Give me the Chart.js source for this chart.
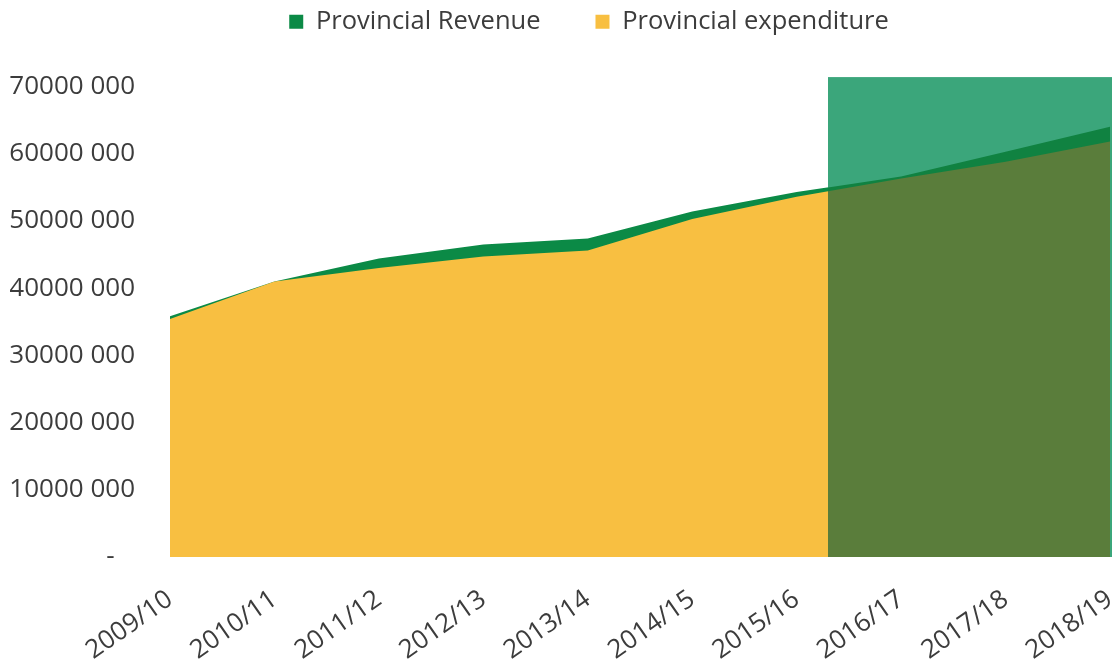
<!DOCTYPE html>
<html>
<head>
<meta charset="utf-8">
<title>Provincial revenue and expenditure</title>
<script src="https://cdn.jsdelivr.net/npm/chart.js@4/dist/chart.umd.min.js"></script>
<style>
  html, body { margin: 0; padding: 0; background: #fff; }
  #wrap { width: 1116px; height: 661px; }
</style>
</head>
<body>
<div id="wrap"><canvas id="revExpChart"></canvas></div>
<script>
/* Financial years */
const years = ['2009/10', '2010/11', '2011/12', '2012/13', '2013/14',
               '2014/15', '2015/16', '2016/17', '2017/18', '2018/19'];

/* Rand values */
const revenue     = [35800000, 41000000, 44400000, 46500000, 47400000,
                     51400000, 54300000, 56600000, 60300000, 64000000];
const expenditure = [35400000, 41000000, 43000000, 44700000, 45600000,
                     50300000, 53600000, 56300000, 58800000, 61800000];

const yTicks = [0, 10000000, 20000000, 30000000, 40000000, 50000000, 60000000, 70000000];

/* Projection band (category index where it starts, top value) */
const shadeFrom = 6.3;
const shadeTop = 71400000;

const greenRev = '#0b8a46';
const yellowExp = '#f8bf41';

/* Shade the projected years on top of the areas */
const projectionShade = {
    id: 'projectionShade',
    afterDatasetsDraw(chart) {
        const { ctx, chartArea, scales: { x, y } } = chart;
        const left = x.getPixelForValue(shadeFrom);
        const right = chartArea.right + 2;
        const top = y.getPixelForValue(shadeTop);
        const bottom = y.getPixelForValue(0);

        ctx.save();
        ctx.beginPath();
        ctx.rect(left, top, right - left, bottom - top);
        ctx.clip();
        ctx.fillStyle = '#3ba67b';
        ctx.fillRect(left, top, right - left, bottom - top);

        // revenue first, expenditure over it
        const tints = ['#5a7d3b', '#108241'];
        for (let i = chart.data.datasets.length - 1; i >= 0; i--) {
            const pts = chart.getDatasetMeta(i).data;
            ctx.beginPath();
            ctx.moveTo(pts[0].x, bottom);
            pts.forEach(p => ctx.lineTo(p.x, p.y));
            ctx.lineTo(pts[pts.length - 1].x, bottom);
            ctx.closePath();
            ctx.fillStyle = tints[i];
            ctx.fill();
        }
        ctx.restore();
    }
};

/* Extra room between the legend and the plot, legend nudged right */
const legendGap = {
    id: 'legendGap',
    afterInit(chart) {
        const legend = chart.legend;
        const fit = legend.fit;
        legend.fit = function () {
            fit.call(this);
            this.height += 42;
        };
    },
    afterLayout(chart) {
        chart.legend.left += 29;
        chart.legend.right += 29;
    }
};

function fmtTick(v) {
    if (v === 0) return '-   ';
    return (v / 1000) + ' 000';
}

document.addEventListener('DOMContentLoaded', () => {
    const ctx = document.getElementById('revExpChart');

    new Chart(ctx, {
        type: 'line',
        data: {
            labels: years,
            datasets: [{
                label: 'Provincial expenditure',
                data: expenditure,
                backgroundColor: yellowExp,
                borderColor: yellowExp,
                borderWidth: 0,
                pointRadius: 0,
                fill: 'origin',
                tension: 0
            }, {
                label: 'Provincial Revenue',
                data: revenue,
                backgroundColor: greenRev,
                borderColor: greenRev,
                borderWidth: 0,
                pointRadius: 0,
                fill: 'origin',
                tension: 0
            }]
        },
        options: {
            responsive: true,
            maintainAspectRatio: false,
            animation: false,
            layout: {
                padding: { left: 10, right: 6, top: -46, bottom: 0 }
            },
            plugins: {
                legend: {
                    reverse: true,
                    labels: {
                        boxWidth: 14,
                        boxHeight: 14,
                        padding: 55,
                        color: '#3c3c3c',
                        font: { family: 'Open Sans', size: 25.5 }
                    }
                },
                tooltip: { enabled: false }
            },
            scales: {
                y: {
                    min: 0,
                    max: 70000000,
                    afterBuildTicks(scale) {
                        scale.ticks = yTicks.map(v => ({ value: v }));
                    },
                    afterFit(scale) {
                        scale.width = 160;
                    },
                    grid: { display: false, drawTicks: false },
                    border: { display: false },
                    ticks: {
                        padding: 35,
                        color: '#3c3c3c',
                        font: { family: 'Open Sans', size: 26 },
                        callback: fmtTick
                    }
                },
                x: {
                    offset: false,
                    afterFit(scale) {
                        scale.paddingLeft = 0;
                        scale.paddingRight = 0;
                        scale.height = 104;
                    },
                    grid: { display: false },
                    border: { display: false },
                    ticks: {
                        minRotation: 35,
                        maxRotation: 35,
                        padding: 19,
                        color: '#3c3c3c',
                        font: { family: 'Open Sans', size: 26 }
                    }
                }
            }
        },
        plugins: [projectionShade, legendGap]
    }); // End Chart
});
</script>
</body>
</html>
